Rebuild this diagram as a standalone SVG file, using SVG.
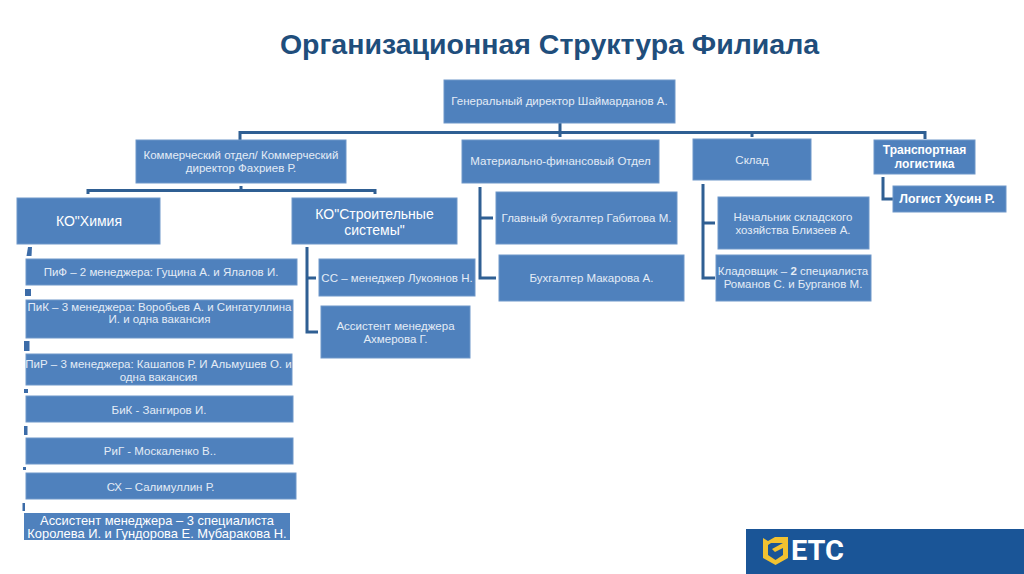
<svg xmlns="http://www.w3.org/2000/svg" width="1024" height="574" viewBox="0 0 1024 574">
<style>
.b{fill:#4f81bd;stroke:#6f97c9;stroke-width:1}
.t{font-family:"Liberation Sans",Arial,sans-serif;fill:#e4ecf6;text-anchor:middle;font-size:11.500px}
.w{fill:#fff;font-size:12.900px}
.l{font-size:14px;fill:#fff}
.s{font-size:12px;fill:#fff;font-weight:bold}
.c{fill:none;stroke:#2f5f93;stroke-width:3}
.p{fill:#3c6ca8}
</style>
<rect width="1024" height="574" fill="#fff"/>
<text x="549.500" y="54" font-family="'Liberation Sans',Arial,sans-serif" font-size="28.500" font-weight="bold" fill="#1f4e7c" text-anchor="middle">Организационная Структура Филиала</text>
<g id="connectors">
<path class="c" d="M240 140V132.500H925V139M560 123V137M752 132.500V137"/>
<path class="c" d="M88 194V190.500H375V194M241 186V190"/>
<path class="c" d="M307 247V332H318M307 278H316"/>
<path class="c" d="M480 187V278H496M480 218H493"/>
<path class="c" d="M703 184V278H715M703 223H715"/>
<path class="c" d="M883 177V199H893"/>
<polygon class="p" points="28,247 32,247 31.500,256 26.500,256"/>
<rect class="p" x="25" y="289" width="6" height="7"/>
<rect class="p" x="24" y="341" width="5.500" height="10"/>
<rect class="p" x="24" y="389" width="4" height="4"/>
<rect class="p" x="24" y="426" width="3.500" height="9"/>
<rect class="p" x="23" y="467" width="3" height="3"/>
<rect class="p" x="22.500" y="503" width="2.500" height="8"/>
</g>
<g id="n-general"><rect class="b" x="444" y="80" width="231" height="43"/><text class="t" x="559.500" y="105">Генеральный директор Шаймарданов А.</text></g>
<g id="n-commercial"><rect class="b" x="136" y="140" width="210" height="43"/><text class="t" x="241" y="159">Коммерческий отдел/ Коммерческий</text><text class="t" x="241" y="172">директор Фахриев Р.</text></g>
<g id="n-finance"><rect class="b" x="462" y="140" width="197" height="43"/><text class="t" x="560.500" y="165">Материально-финансовый Отдел</text></g>
<g id="n-sklad"><rect class="b" x="693" y="139" width="118" height="41"/><text class="t" x="752" y="164">Склад</text></g>
<g id="n-transport"><rect class="b" x="874" y="140" width="101" height="34"/><text class="t s" x="924.500" y="154">Транспортная</text><text class="t s" x="924.500" y="168">логистика</text></g>
<g id="n-logist"><rect class="b" x="893" y="186" width="113" height="26"/><text class="t s" x="947" y="203" style="font-size:12.400px">Логист Хусин Р.</text></g>
<g id="n-ko-chem"><rect class="b" x="17" y="198" width="143" height="46"/><text class="t l" x="89" y="226">КО"Химия</text></g>
<g id="n-ko-build"><rect class="b" x="292" y="198" width="165" height="46"/><text class="t l" x="374.500" y="219">КО"Строительные</text><text class="t l" x="374.500" y="235">системы"</text></g>
<g id="n-pif"><rect class="b" x="26" y="259" width="271" height="26"/><text class="t" x="161" y="276">ПиФ – 2 менеджера: Гущина А. и Ялалов И.</text></g>
<g id="n-pik"><rect class="b" x="26" y="300" width="267" height="38"/><text class="t" x="159.500" y="311">ПиК – 3 менеджера: Воробьев А. и Сингатуллина</text><text class="t" x="159.500" y="323">И. и одна вакансия</text></g>
<g id="n-pir"><rect class="b" x="26" y="354" width="266" height="31"/><text class="t" x="158.500" y="368">ПиР – 3 менеджера: Кашапов Р. И Альмушев О. и</text><text class="t" x="158.500" y="380.500">одна вакансия</text></g>
<g id="n-bik"><rect class="b" x="26" y="396" width="267" height="26"/><text class="t" x="159" y="414">БиК - Зангиров И.</text></g>
<g id="n-rig"><rect class="b" x="26" y="438" width="267" height="26"/><text class="t" x="160" y="455">РиГ - Москаленко В..</text></g>
<g id="n-sx"><rect class="b" x="26" y="473" width="270" height="26"/><text class="t" x="160.500" y="491">СХ – Салимуллин Р.</text></g>
<g id="n-assist"><rect class="b" x="24" y="513" width="266" height="27" style="stroke:none"/><text class="t w" x="157" y="524.500">Ассистент менеджера – 3 специалиста</text><text class="t w" x="157" y="538">Королева И. и Гундорова Е. Мубаракова Н.</text></g>
<g id="n-ss"><rect class="b" x="319" y="259" width="156" height="37"/><text class="t" x="397" y="282">СС – менеджер Лукоянов Н.</text></g>
<g id="n-assist2"><rect class="b" x="321" y="306" width="149" height="52"/><text class="t" x="395.500" y="330">Ассистент менеджера</text><text class="t" x="395.500" y="342.500">Ахмерова Г.</text></g>
<g id="n-chief"><rect class="b" x="496" y="192" width="181" height="52"/><text class="t" x="586.500" y="222">Главный бухгалтер  Габитова М.</text></g>
<g id="n-buh"><rect class="b" x="499" y="255" width="185" height="46"/><text class="t" x="591.500" y="282">Бухгалтер Макарова А.</text></g>
<g id="n-head"><rect class="b" x="718" y="197" width="151" height="52"/><text class="t" x="793" y="221">Начальник складского</text><text class="t" x="793" y="233.500">хозяйства Близеев А.</text></g>
<g id="n-keeper"><rect class="b" x="716" y="255" width="155" height="46"/><text class="t" x="793" y="275">Кладовщик – <tspan font-weight="bold">2</tspan> специалиста</text><text class="t" x="793" y="288">Романов С. и Бурганов М.</text></g>
<g id="footer">
<rect x="746" y="529" width="278" height="45" fill="#1a5597"/>
<path d="M763 538L768 541L775 537L788 537L788 558L775.500 565L763 558Z" fill="#f2c230"/>
<path d="M768 545V555L775.500 560L783 555V548L775 552L772 549L783 543H771Z" fill="#1a5597"/>
<text x="791" y="560" font-family="Roboto,'Liberation Sans',sans-serif" font-size="27" font-weight="bold" fill="#fff" textLength="53" lengthAdjust="spacingAndGlyphs">ETC</text>
</g>
</svg>
